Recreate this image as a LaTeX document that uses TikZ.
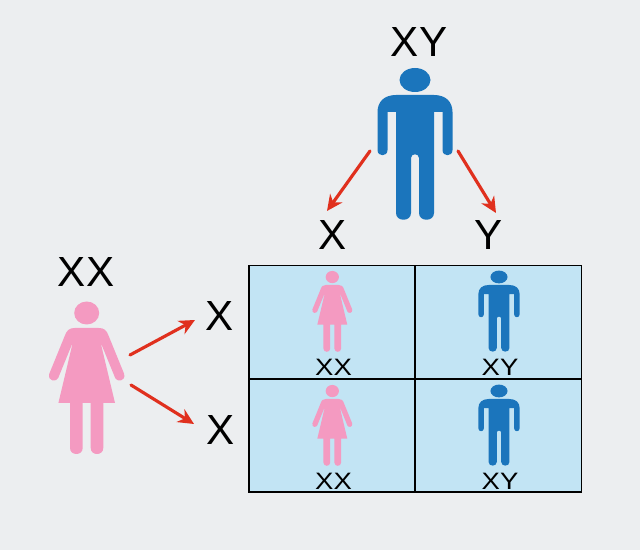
\documentclass[tikz,border=0pt]{standalone}
\usepackage{fontspec}
\setmainfont{Liberation Sans}
\definecolor{bgc}{HTML}{ECEEF0}
\definecolor{cellc}{HTML}{C2E4F4}
\definecolor{manc}{HTML}{1B75BC}
\definecolor{womanc}{HTML}{F49AC1}
\definecolor{arrowc}{HTML}{E0301E}
\usetikzlibrary{arrows.meta}
\newcommand{\widelabel}[1]{\scalebox{1.16}[1]{#1}}
\tikzset{
  bigl/.style={font=\fontsize{24}{24}\selectfont,text=black,inner sep=0pt},
  smalll/.style={font=\fontsize{13.5}{14}\selectfont,text=black,inner sep=0pt},
  cellbox/.style={draw=black,line width=0.6pt,fill=cellc},
  redarrow/.style={draw=arrowc,line width=1.8pt,-{Stealth[length=9pt,width=8.5pt]},line cap=round},
  man/.pic={
    \fill[manc] (0,-15) ellipse [x radius=15.5,y radius=12];
    \fill[manc] (-19,0) -- (19,0)
      .. controls (31,0) and (37.5,7) .. (37.5,17) -- (37.5,55)
      .. controls (37.5,62) and (27.5,62) .. (27.5,55) -- (27.5,17) -- (19,17) -- (19,118)
      .. controls (19,127) and (4,127) .. (4,118) -- (4,63)
      .. controls (4,58) and (-4,58) .. (-4,63) -- (-4,118)
      .. controls (-4,127) and (-19,127) .. (-19,118) -- (-19,17) -- (-27.5,17) -- (-27.5,55)
      .. controls (-27.5,62) and (-37.5,62) .. (-37.5,55) -- (-37.5,17)
      .. controls (-37.5,7) and (-31,0) .. (-19,0) -- cycle;
  },
  woman/.pic={
    \fill[womanc] (0,-15) ellipse [x radius=12.5,y radius=11.5];
    \fill[womanc] (-12,0) -- (12,0)
      .. controls (17,0) and (20,2) .. (22,8) -- (37.5,46)
      .. controls (39,54) and (30,54) .. (28.5,50) -- (15,17) -- (14.5,17) -- (28.3,75)
      -- (16.6,75) -- (16.6,120)
      .. controls (16.6,128) and (4,128) .. (4,120) -- (4,75) -- (-4,75) -- (-4,120)
      .. controls (-4,128) and (-16.7,128) .. (-16.7,120) -- (-16.7,75) -- (-28.3,75)
      -- (-14.5,17) -- (-15,17) -- (-28.5,50)
      .. controls (-30,54) and (-39,54) .. (-37.5,46) -- (-22,8)
      .. controls (-20,2) and (-17,0) .. (-12,0) -- cycle;
  }
}
\begin{document}
\begin{tikzpicture}[x=0.02cm,y=-0.02cm]
\path[use as bounding box,fill=bgc] (0,0) rectangle (640,550);
% Punnett grid
\path[cellbox] (249,265.5) rectangle (415,379);
\path[cellbox] (415,265.5) rectangle (581.5,379);
\path[cellbox] (249,379) rectangle (415,492);
\path[cellbox] (415,379) rectangle (581.5,492);
% figures
\pic at (415,95) {man};
\pic at (86.7,328) {woman};
\pic[xscale=.53,yscale=.53] at (332.3,285) {woman};
\pic[xscale=.53,yscale=.53] at (332.3,399) {woman};
\pic[xscale=.55,yscale=.534] at (499,285) {man};
\pic[xscale=.55,yscale=.534] at (499,399) {man};
% labels
\node[bigl] (lxy) at (419,42) {XY};
\node[bigl] (lx1) at (333,235) {X};
\node[bigl] (ly1) at (489,235) {Y};
\node[bigl] (lxx) at (86,272) {XX};
\node[bigl] (lx2) at (220,316) {X};
\node[bigl] (lx3) at (221,430) {X};
\node[smalll] (c1) at (333.5,367) {\widelabel{XX}};
\node[smalll] (c2) at (500,367) {\widelabel{XY}};
\node[smalll] (c3) at (333.5,481) {\widelabel{XX}};
\node[smalll] (c4) at (500,481) {\widelabel{XY}};
% connector ends
\coordinate (m1) at (370,151);
\coordinate (m2) at (458,151);
\coordinate (w1) at (130,355);
\coordinate (w2) at (131,385);
\coordinate (t1) at (327,211);
\coordinate (t2) at (496,213);
\coordinate (t3) at (195,320);
\coordinate (t4) at (194,424);
\draw[redarrow] (m1) -- (t1);
\draw[redarrow] (m2) -- (t2);
\draw[redarrow] (w1) -- (t3);
\draw[redarrow] (w2) -- (t4);
\end{tikzpicture}
\end{document}
